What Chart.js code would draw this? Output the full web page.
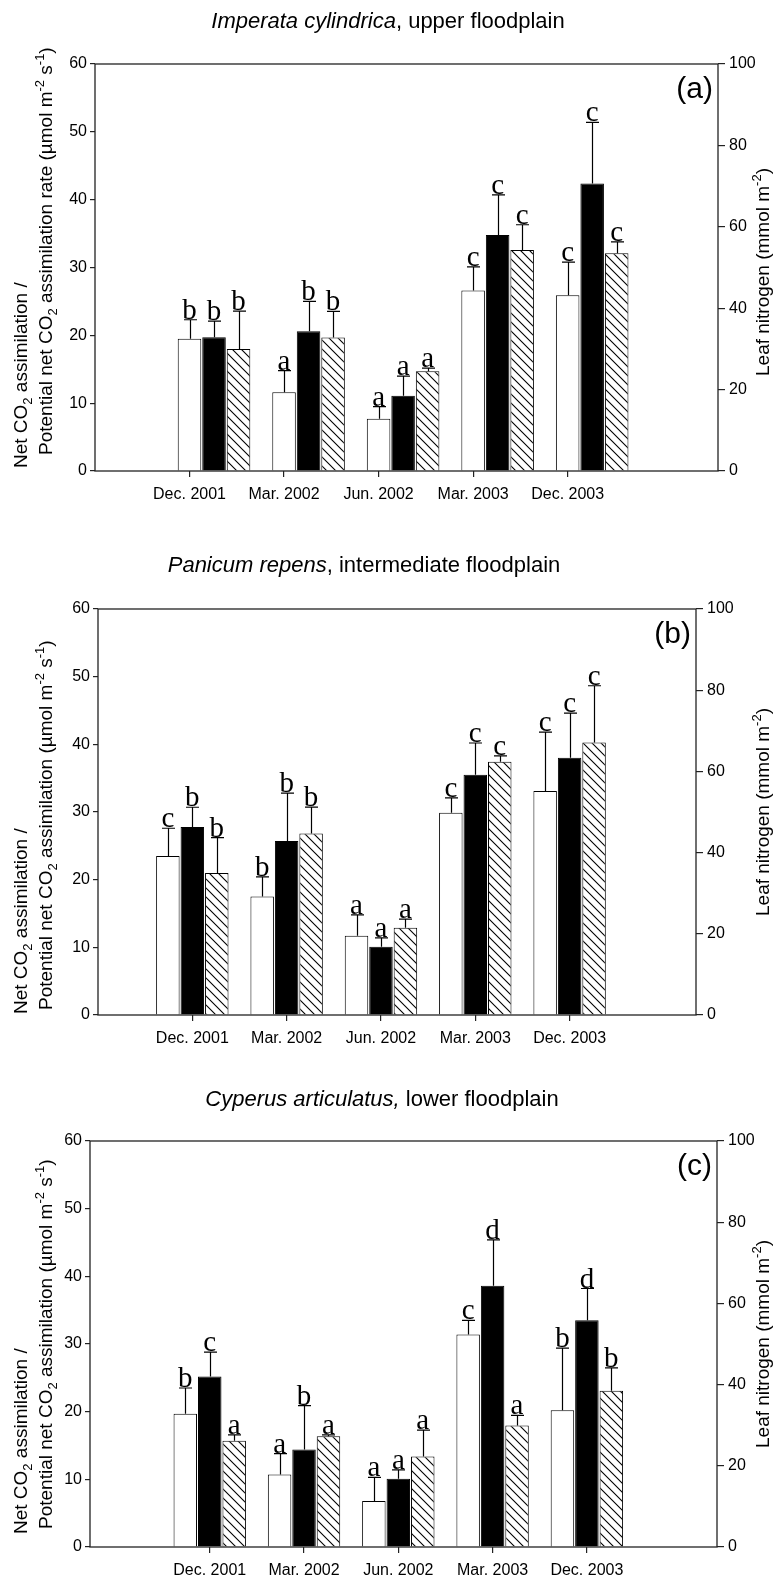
<!DOCTYPE html>
<html><head><meta charset="utf-8">
<script src="https://cdn.jsdelivr.net/npm/chart.js@4.4.1/dist/chart.umd.min.js"></script>
<style>
html,body{margin:0;padding:0;background:#fff;}
#wrap{position:relative;width:773px;height:1582px;overflow:hidden;}
canvas{position:absolute;left:0;}
</style></head><body>
<div id="wrap">
<canvas id="ca" width="773" height="520" style="top:0px;width:773px;height:520px"></canvas>
<canvas id="cb" width="773" height="530" style="top:520px;width:773px;height:530px"></canvas>
<canvas id="cc" width="773" height="532" style="top:1050px;width:773px;height:532px"></canvas>
</div>
<script>
// ---------------- DATA ----------------
const categories = ['Dec. 2001', 'Mar. 2002', 'Jun. 2002', 'Mar. 2003', 'Dec. 2003'];
const co2Ticks = [0, 10, 20, 30, 40, 50, 60];
const nitrogenTicks = [0, 20, 40, 60, 80, 100];

// (a) Imperata cylindrica, upper floodplain
const aNetCO2 = [19.5, 11.6, 7.7, 26.6, 25.9];
const aNetCO2Err = [2.8, 3.2, 1.8, 3.5, 4.9];
const aPotCO2 = [19.7, 20.6, 11.1, 34.8, 42.4];
const aPotCO2Err = [2.4, 4.4, 2.9, 5.9, 9.0];
const aLeafN = [30.0, 32.8, 24.5, 54.3, 53.5];
const aLeafNErr = [9.3, 6.4, 0.8, 6.2, 2.8];
const aNetLetters = ['b', 'a', 'a', 'c', 'c'];
const aPotLetters = ['b', 'b', 'a', 'c', 'c'];
const aLeafLetters = ['b', 'b', 'a', 'c', 'c'];

// (b) Panicum repens, intermediate floodplain
const bNetCO2 = [23.5, 17.5, 11.7, 29.9, 33.1];
const bNetCO2Err = [4.1, 2.9, 3.1, 2.2, 8.7];
const bPotCO2 = [27.8, 25.7, 10.1, 35.5, 38.0];
const bPotCO2Err = [2.9, 7.1, 1.3, 4.7, 6.6];
const bLeafN = [35.0, 44.7, 21.5, 62.4, 67.1];
const bLeafNErr = [8.7, 6.5, 2.1, 1.4, 14.0];
const bNetLetters = ['c', 'b', 'a', 'c', 'c'];
const bPotLetters = ['b', 'b', 'a', 'c', 'c'];
const bLeafLetters = ['b', 'b', 'a', 'c', 'c'];

// (c) Cyperus articulatus, lower floodplain
const cNetCO2 = [19.7, 10.7, 6.8, 31.4, 20.2];
const cNetCO2Err = [3.8, 3.1, 3.5, 2.1, 9.2];
const cPotCO2 = [25.2, 14.4, 10.1, 38.6, 33.5];
const cPotCO2Err = [3.6, 6.5, 1.3, 6.8, 4.7];
const cLeafN = [26.2, 27.3, 22.3, 29.9, 38.5];
const cLeafNErr = [1.4, 0.3, 6.5, 2.5, 5.6];
const cNetLetters = ['b', 'a', 'a', 'c', 'b'];
const cPotLetters = ['c', 'b', 'a', 'd', 'd'];
const cLeafLetters = ['a', 'a', 'a', 'a', 'b'];

// ---------------- STYLE / LAYOUT ----------------
const SANS = '"Liberation Sans", Arial, sans-serif';
const SERIF = '"Liberation Serif", "Times New Roman", serif';
const W = 773;

const panels = [
  { id: 'ca', height: 520, plot: { l: 95, r: 718, t: 64, b: 471 }, xmin: 0, xmax: 6.59, shift: 0.259,
    net: aNetCO2, netErr: aNetCO2Err, pot: aPotCO2, potErr: aPotCO2Err, leaf: aLeafN, leafErr: aLeafNErr,
    netL: aNetLetters, potL: aPotLetters, leafL: aLeafLetters,
    title: [['Imperata cylindrica', 'i'], [', upper floodplain', '']], titleX: 388, titleY: 28,
    tag: '(a)', rate: true, y1Start: 468, y2Start: 455, rightMid: 272 },
  { id: 'cb', height: 530, plot: { l: 98, r: 696, t: 89, b: 495 }, xmin: 0, xmax: 6.34, shift: 0,
    net: bNetCO2, netErr: bNetCO2Err, pot: bPotCO2, potErr: bPotCO2Err, leaf: bLeafN, leafErr: bLeafNErr,
    netL: bNetLetters, potL: bPotLetters, leafL: bLeafLetters,
    title: [['Panicum repens', 'i'], [', intermediate floodplain', '']], titleX: 364, titleY: 52,
    tag: '(b)', rate: false, y1Start: 494, y2Start: 490, rightMid: 292 },
  { id: 'cc', height: 532, plot: { l: 90, r: 717, t: 91, b: 497 }, xmin: -0.27, xmax: 6.38, shift: 0,
    net: cNetCO2, netErr: cNetCO2Err, pot: cPotCO2, potErr: cPotCO2Err, leaf: cLeafN, leafErr: cLeafNErr,
    netL: cNetLetters, potL: cPotLetters, leafL: cLeafLetters,
    title: [['Cyperus articulatus,', 'i'], [' lower floodplain', '']], titleX: 382, titleY: 56,
    tag: '(c)', rate: false, y1Start: 484, y2Start: 479, rightMid: 294 }
];

function richDraw(ctx, segs, x, y, size, family, align) {
  const parts = segs.map(([t, k]) => {
    const sz = (k === 'sub' || k === 'sup') ? Math.round(size * 0.68) : size;
    const f = (k === 'i' ? 'italic ' : '') + sz + 'px ' + family;
    ctx.font = f;
    return { t, k, f, w: ctx.measureText(t).width };
  });
  const total = parts.reduce((s, p) => s + p.w, 0);
  let cx = align === 'center' ? x - total / 2 : (align === 'right' ? x - total : x);
  ctx.textAlign = 'left';
  ctx.textBaseline = 'alphabetic';
  parts.forEach(p => {
    ctx.font = p.f;
    const dy = p.k === 'sub' ? size * 0.28 : (p.k === 'sup' ? -size * 0.42 : 0);
    ctx.fillText(p.t, cx, y + dy);
    cx += p.w;
  });
  return total;
}

function hatchPattern(ctx) {
  const s = 9;
  const c = document.createElement('canvas');
  c.width = s; c.height = s;
  const g = c.getContext('2d');
  g.fillStyle = '#fff'; g.fillRect(0, 0, s, s);
  g.strokeStyle = '#000'; g.lineWidth = 1.1;
  g.beginPath();
  g.moveTo(-1, -1); g.lineTo(s + 1, s + 1);
  g.moveTo(-s - 1, -1); g.lineTo(1, s + 1);
  g.moveTo(s - 1, -1); g.lineTo(2 * s + 1, s + 1);
  g.stroke();
  return ctx.createPattern(c, 'repeat');
}

const decorPlugin = {
  id: 'decor',
  afterDatasetsDraw(chart) {
    const ctx = chart.ctx;
    ctx.save();
    chart.data.datasets.forEach((ds, di) => {
      const meta = chart.getDatasetMeta(di);
      const scale = chart.scales[ds.yAxisID];
      meta.data.forEach((bar, i) => {
        const v = ds.data[i].y, e = ds.errors[i];
        const yTop = scale.getPixelForValue(v + e);
        const x = Math.round(bar.x) + 0.5;
        ctx.strokeStyle = '#000';
        ctx.lineWidth = 1.2;
        ctx.beginPath();
        ctx.moveTo(x, bar.y);
        ctx.lineTo(x, yTop);
        ctx.moveTo(x - 6.5, yTop);
        ctx.lineTo(x + 6.5, yTop);
        ctx.stroke();
        ctx.fillStyle = '#000';
        ctx.font = '29px ' + SERIF;
        ctx.textAlign = 'center';
        ctx.textBaseline = 'alphabetic';
        ctx.fillText(ds.letters[i], bar.x, yTop - 1);
      });
    });
    ctx.restore();
  },
  afterDraw(chart) {
    const P = chart.options.plugins.decor.panel;
    const ctx = chart.ctx;
    const a = chart.chartArea;
    ctx.save();
    ctx.strokeStyle = '#222';
    ctx.lineWidth = 1.3;
    ctx.strokeRect(a.left, a.top, a.right - a.left, a.bottom - a.top);
    ctx.fillStyle = '#000';
    // title
    richDraw(ctx, P.title, P.titleX, P.titleY, 22, SANS, 'center');
    // panel tag
    ctx.font = '30px ' + SANS;
    ctx.textAlign = 'right';
    ctx.textBaseline = 'alphabetic';
    ctx.fillText(P.tag, a.right - 5, a.top + 34);
    // left titles
    const fs = 19;
    const line1 = [['Net CO', ''], ['2', 'sub'], [' assimilation /', '']];
    const line2 = [['Potential net CO', ''], ['2', 'sub'], [P.rate ? ' assimilation rate (\u00b5mol m' : ' assimilation (\u00b5mol m', ''], ['-2', 'sup'], [' s', ''], ['-1', 'sup'], [')', '']];
    ctx.save(); ctx.translate(20, P.y1Start); ctx.rotate(-Math.PI / 2);
    richDraw(ctx, line1, 0, fs * 0.36, fs, SANS, 'left'); ctx.restore();
    ctx.save(); ctx.translate(45, P.y2Start); ctx.rotate(-Math.PI / 2);
    richDraw(ctx, line2, 0, fs * 0.36, fs, SANS, 'left'); ctx.restore();
    // right title
    const rt = [['Leaf nitrogen (mmol m', ''], ['-2', 'sup'], [')', '']];
    ctx.save(); ctx.translate(762, P.rightMid); ctx.rotate(-Math.PI / 2);
    richDraw(ctx, rt, 0, fs * 0.36, fs, SANS, 'center'); ctx.restore();
    ctx.restore();
  }
};

panels.forEach(P => {
  const canvas = document.getElementById(P.id);
  const ctx = canvas.getContext('2d');
  const xs = categories.map((_, i) => i + 1 + P.shift);
  const mk = (vals) => vals.map((v, i) => ({ x: xs[i], y: v }));
  const common = { borderColor: '#000', borderWidth: 1, categoryPercentage: 0.778, barPercentage: 0.96, borderSkipped: 'bottom' };
  const tickFont = { family: SANS, size: 16 };
  new Chart(ctx, {
    type: 'bar',
    data: {
      datasets: [
        Object.assign({ label: 'Net CO2 assimilation', data: mk(P.net), errors: P.netErr, letters: P.netL, yAxisID: 'y', backgroundColor: '#fff' }, common),
        Object.assign({ label: 'Potential net CO2 assimilation', data: mk(P.pot), errors: P.potErr, letters: P.potL, yAxisID: 'y', backgroundColor: '#000' }, common),
        Object.assign({ label: 'Leaf nitrogen', data: mk(P.leaf), errors: P.leafErr, letters: P.leafL, yAxisID: 'y2', backgroundColor: hatchPattern(ctx) }, common)
      ]
    },
    options: {
      responsive: false,
      animation: false,
      devicePixelRatio: 1,
      layout: { padding: { top: P.plot.t, left: 0, right: 0, bottom: 0 } },
      plugins: { legend: { display: false }, tooltip: { enabled: false }, decor: { panel: P } },
      scales: {
        x: {
          type: 'linear', min: P.xmin, max: P.xmax, offset: false,
          afterBuildTicks: s => { s.ticks = categories.map((c, i) => ({ value: i + 1 })); },
          ticks: { callback: v => categories[Math.round(v) - 1] || '', autoSkip: false, maxRotation: 0, font: tickFont, color: '#000', padding: 8 },
          grid: { display: true, drawOnChartArea: false, drawTicks: true, tickLength: 6, color: '#222', lineWidth: 1.2, offset: false },
          border: { display: false },
          afterFit: s => { s.height = P.height - P.plot.b; }
        },
        y: {
          position: 'left', min: 0, max: 60,
          afterBuildTicks: s => { s.ticks = co2Ticks.map(v => ({ value: v })); },
          ticks: { font: tickFont, color: '#000', padding: 3 },
          grid: { display: true, drawOnChartArea: false, drawTicks: true, tickLength: 5, color: '#222', lineWidth: 1.2 },
          border: { display: false },
          afterFit: s => { s.width = P.plot.l; }
        },
        y2: {
          position: 'right', min: 0, max: 100,
          afterBuildTicks: s => { s.ticks = nitrogenTicks.map(v => ({ value: v })); },
          ticks: { font: tickFont, color: '#000', padding: 4 },
          grid: { display: true, drawOnChartArea: false, drawTicks: true, tickLength: 7, color: '#222', lineWidth: 1.2 },
          border: { display: false },
          afterFit: s => { s.width = W - P.plot.r; }
        }
      }
    },
    plugins: [decorPlugin]
  });
});
</script>
</body></html>
